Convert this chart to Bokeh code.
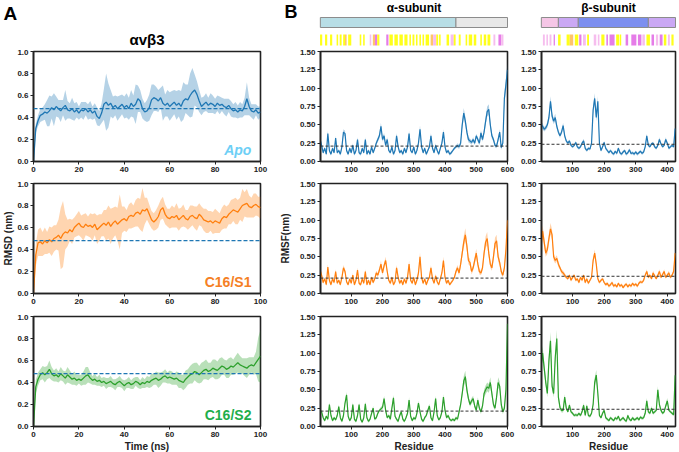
import numpy as np
from bokeh.plotting import figure
from bokeh.layouts import row, column
from bokeh.models import Range1d, FixedTicker, PrintfTickFormatter, Span, Label, ColumnDataSource
from bokeh.embed import file_html
from bokeh.resources import INLINE

FONT = "Liberation Sans"
AX = "#222222"

# ---------------- RMSD data (panel A) ----------------
time_ns = list(range(101))
rmsd_apo = [0.00,0.30,0.37,0.42,0.43,0.45,0.44,0.46,0.49,0.47,
            0.50,0.48,0.46,0.49,0.51,0.47,0.46,0.48,0.45,0.47,
            0.44,0.47,0.46,0.48,0.45,0.47,0.44,0.46,0.41,0.39,
            0.44,0.52,0.54,0.51,0.53,0.49,0.51,0.48,0.50,0.52,
            0.49,0.51,0.48,0.53,0.50,0.52,0.57,0.55,0.48,0.45,
            0.46,0.49,0.56,0.58,0.57,0.55,0.58,0.53,0.51,0.53,
            0.50,0.52,0.54,0.51,0.53,0.50,0.55,0.57,0.56,0.60,
            0.63,0.65,0.61,0.55,0.50,0.52,0.54,0.51,0.53,0.52,
            0.50,0.53,0.51,0.52,0.50,0.49,0.51,0.48,0.46,0.47,
            0.45,0.47,0.46,0.50,0.57,0.50,0.46,0.45,0.47,0.44,
            0.45]
rmsd_apo_sd = [0.00,0.04,0.05,0.06,0.06,0.07,0.12,0.14,0.10,0.15,
               0.09,0.08,0.10,0.07,0.14,0.08,0.07,0.10,0.08,0.07,
               0.06,0.07,0.08,0.06,0.07,0.08,0.06,0.07,0.08,0.07,
               0.09,0.14,0.26,0.20,0.12,0.10,0.09,0.11,0.10,0.09,
               0.10,0.11,0.10,0.12,0.10,0.18,0.12,0.10,0.09,0.08,
               0.10,0.12,0.14,0.12,0.11,0.10,0.09,0.16,0.10,0.12,
               0.13,0.12,0.11,0.13,0.12,0.14,0.17,0.13,0.14,0.20,
               0.22,0.14,0.12,0.10,0.08,0.07,0.08,0.07,0.09,0.08,
               0.07,0.07,0.08,0.06,0.07,0.08,0.06,0.07,0.06,0.07,
               0.06,0.07,0.06,0.08,0.15,0.08,0.06,0.07,0.05,0.06,
               0.05]
rmsd_s1 = [0.00,0.35,0.46,0.47,0.45,0.48,0.46,0.49,0.47,0.50,
           0.51,0.53,0.50,0.54,0.56,0.55,0.58,0.56,0.60,0.62,
           0.64,0.61,0.60,0.63,0.61,0.62,0.60,0.63,0.58,0.60,
           0.62,0.64,0.62,0.65,0.61,0.64,0.66,0.63,0.65,0.67,
           0.68,0.66,0.70,0.71,0.70,0.73,0.74,0.72,0.76,0.75,
           0.77,0.72,0.67,0.65,0.67,0.70,0.76,0.78,0.72,0.69,
           0.68,0.70,0.69,0.71,0.67,0.69,0.71,0.68,0.67,0.70,
           0.71,0.69,0.68,0.72,0.70,0.67,0.66,0.65,0.66,0.64,
           0.66,0.65,0.64,0.68,0.70,0.69,0.72,0.74,0.76,0.75,
           0.74,0.77,0.80,0.81,0.82,0.79,0.78,0.80,0.81,0.79,
           0.78]
rmsd_s1_sd = [0.00,0.10,0.12,0.13,0.11,0.12,0.10,0.12,0.13,0.12,
              0.11,0.14,0.28,0.30,0.16,0.12,0.10,0.11,0.09,0.10,
              0.11,0.10,0.12,0.10,0.09,0.11,0.12,0.10,0.13,0.12,
              0.10,0.12,0.14,0.15,0.16,0.14,0.13,0.15,0.25,0.12,
              0.11,0.10,0.11,0.12,0.10,0.12,0.13,0.14,0.20,0.12,
              0.10,0.09,0.08,0.08,0.09,0.10,0.09,0.10,0.09,0.08,
              0.09,0.10,0.09,0.11,0.10,0.09,0.10,0.08,0.09,0.10,
              0.09,0.10,0.11,0.10,0.09,0.10,0.11,0.10,0.09,0.10,
              0.11,0.10,0.09,0.10,0.11,0.10,0.09,0.11,0.10,0.12,
              0.11,0.10,0.15,0.11,0.13,0.10,0.09,0.11,0.10,0.09,
              0.10]
rmsd_s2 = [0.00,0.36,0.43,0.47,0.49,0.47,0.49,0.52,0.48,0.46,
           0.47,0.45,0.48,0.46,0.44,0.47,0.45,0.43,0.44,0.42,
           0.43,0.42,0.44,0.46,0.47,0.44,0.42,0.43,0.41,0.42,
           0.40,0.41,0.39,0.40,0.41,0.39,0.38,0.40,0.41,0.39,
           0.37,0.39,0.40,0.38,0.39,0.41,0.40,0.38,0.40,0.39,
           0.41,0.40,0.42,0.43,0.44,0.42,0.43,0.45,0.46,0.44,
           0.45,0.44,0.43,0.44,0.42,0.41,0.40,0.43,0.45,0.47,
           0.48,0.50,0.49,0.47,0.49,0.51,0.52,0.50,0.51,0.53,
           0.52,0.51,0.53,0.55,0.54,0.52,0.53,0.55,0.54,0.56,
           0.58,0.56,0.55,0.54,0.53,0.55,0.56,0.55,0.58,0.61,
           0.64]
rmsd_s2_sd = [0.00,0.06,0.06,0.05,0.06,0.07,0.06,0.08,0.06,0.05,
              0.06,0.05,0.06,0.05,0.06,0.07,0.06,0.05,0.06,0.05,
              0.04,0.05,0.06,0.08,0.07,0.05,0.04,0.05,0.04,0.05,
              0.04,0.04,0.05,0.04,0.05,0.04,0.05,0.04,0.05,0.04,
              0.05,0.04,0.05,0.04,0.05,0.04,0.05,0.04,0.05,0.04,
              0.05,0.05,0.06,0.05,0.06,0.07,0.06,0.05,0.06,0.05,
              0.06,0.06,0.05,0.06,0.07,0.06,0.07,0.08,0.07,0.08,
              0.09,0.08,0.09,0.08,0.09,0.08,0.09,0.08,0.07,0.08,
              0.09,0.08,0.09,0.08,0.07,0.08,0.09,0.08,0.07,0.08,
              0.09,0.08,0.07,0.08,0.09,0.08,0.07,0.08,0.10,0.20,
              0.24]
rmsd_ref = 0.48

# ---------------- RMSF data (panel B) ----------------
res_alpha = list(range(0, 601, 5))
rmsf_a_apo = [0.30,0.22,0.12,0.18,0.10,0.38,0.15,0.10,0.18,0.12,
              0.32,0.12,0.15,0.10,0.20,0.40,0.38,0.15,0.10,0.18,
              0.12,0.22,0.10,0.15,0.30,0.12,0.10,0.18,0.12,0.30,
              0.10,0.15,0.10,0.20,0.12,0.18,0.25,0.30,0.35,0.48,
              0.30,0.35,0.22,0.30,0.15,0.12,0.20,0.10,0.15,0.35,
              0.20,0.12,0.15,0.10,0.18,0.12,0.20,0.38,0.15,0.12,
              0.20,0.10,0.15,0.25,0.44,0.20,0.12,0.18,0.10,0.15,
              0.20,0.35,0.18,0.12,0.22,0.15,0.10,0.18,0.25,0.40,
              0.20,0.12,0.15,0.10,0.12,0.15,0.18,0.20,0.22,0.20,
              0.25,0.50,0.66,0.55,0.40,0.30,0.28,0.26,0.30,0.25,
              0.35,0.30,0.25,0.39,0.30,0.40,0.55,0.68,0.71,0.50,
              0.35,0.30,0.22,0.21,0.30,0.40,0.19,0.25,0.86,1.05,
              1.25]
rmsf_a_apo_sd = [3,3,2,2,2,4,2,2,2,2, 3,2,2,2,2,4,4,2,2,2, 2,3,2,2,3,2,2,2,2,3,
                 2,2,2,2,2,2,3,3,4,5, 3,4,3,3,2,2,2,2,2,4, 3,2,2,2,2,2,2,4,2,2,
                 2,2,2,3,5,2,2,2,2,2, 2,4,2,2,3,2,2,2,3,4, 3,2,2,2,2,2,2,2,3,3,
                 3,5,7,6,5,4,3,3,3,3, 3,3,3,4,3,4,6,7,7,5, 4,3,3,3,3,4,3,3,8,9, 10]
rmsf_a_s1 = [0.32,0.25,0.15,0.20,0.12,0.36,0.18,0.12,0.20,0.15,
             0.30,0.14,0.18,0.12,0.22,0.35,0.30,0.16,0.12,0.20,
             0.14,0.25,0.12,0.18,0.32,0.14,0.12,0.20,0.14,0.30,
             0.12,0.18,0.12,0.22,0.15,0.20,0.28,0.25,0.32,0.40,
             0.28,0.38,0.45,0.30,0.18,0.14,0.22,0.12,0.16,0.35,
             0.22,0.14,0.18,0.12,0.20,0.14,0.22,0.40,0.18,0.14,
             0.22,0.12,0.18,0.28,0.50,0.22,0.14,0.20,0.12,0.18,
             0.22,0.35,0.20,0.14,0.24,0.16,0.12,0.20,0.28,0.45,
             0.22,0.14,0.18,0.12,0.15,0.18,0.22,0.30,0.35,0.28,
             0.40,0.55,0.70,0.80,0.65,0.45,0.42,0.30,0.35,0.45,
             0.55,0.40,0.30,0.28,0.35,0.55,0.70,0.75,0.55,0.40,
             0.35,0.50,0.68,0.72,0.50,0.42,0.30,0.25,0.35,0.60,
             1.00]
rmsf_a_s1_sd = [3,3,2,2,2,4,2,2,2,2, 3,2,2,2,2,4,3,2,2,2, 2,3,2,2,3,2,2,2,2,3,
                2,2,2,2,2,2,3,3,3,5, 3,4,5,3,2,2,2,2,2,4, 3,2,2,2,2,2,2,5,2,2,
                2,2,2,3,6,2,2,2,2,2, 2,4,2,2,3,2,2,2,3,5, 3,2,2,2,2,2,2,3,4,3,
                5,6,8,9,7,5,5,4,4,5, 6,5,4,3,4,6,8,9,6,5, 4,6,8,8,6,5,4,3,4,6, 8]
rmsf_a_s2 = [0.22,0.20,0.12,0.08,0.14,0.10,0.30,0.15,0.08,0.12,
             0.09,0.15,0.27,0.12,0.07,0.15,0.32,0.43,0.14,0.08,
             0.12,0.30,0.10,0.07,0.15,0.30,0.10,0.06,0.12,0.31,
             0.12,0.07,0.10,0.18,0.25,0.10,0.12,0.18,0.22,0.24,
             0.26,0.38,0.22,0.12,0.15,0.10,0.25,0.39,0.14,0.10,
             0.07,0.15,0.20,0.10,0.07,0.12,0.18,0.36,0.14,0.08,
             0.12,0.10,0.18,0.32,0.20,0.10,0.07,0.12,0.15,0.22,
             0.28,0.12,0.08,0.20,0.38,0.15,0.09,0.12,0.20,0.40,
             0.22,0.12,0.15,0.10,0.08,0.10,0.08,0.12,0.10,0.20,
             0.30,0.45,0.62,0.68,0.50,0.38,0.30,0.35,0.38,0.28,
             0.22,0.36,0.25,0.20,0.28,0.45,0.50,0.54,0.52,0.60,
             0.45,0.30,0.25,0.40,0.60,0.55,0.30,0.20,0.25,0.50,
             1.40]
rmsf_a_s2_sd = [2,2,2,2,2,2,3,2,2,2, 2,2,3,2,2,2,3,4,2,2, 2,3,2,2,2,3,2,2,2,3,
                2,2,2,2,3,2,2,2,2,3, 3,4,3,2,2,2,3,4,2,2, 2,2,2,2,2,2,2,4,2,2,
                2,2,2,3,2,2,2,2,2,3, 3,2,2,2,4,2,2,2,2,4, 3,2,2,2,2,2,2,2,2,2,
                3,5,7,8,6,4,3,4,4,3, 3,4,3,3,3,5,6,6,6,7, 5,4,3,4,7,6,4,3,3,6, 10]
rmsf_alpha_ref = 0.21

res_beta = list(range(0, 426, 5))
rmsf_b_apo = [0.50,0.48,0.44,0.46,0.50,0.60,0.82,0.62,0.55,0.60,
              0.48,0.40,0.35,0.40,0.49,0.35,0.28,0.25,0.28,0.22,
              0.20,0.22,0.26,0.20,0.18,0.20,0.25,0.28,0.18,0.15,
              0.18,0.17,0.25,0.70,0.86,0.60,0.82,0.25,0.15,0.20,
              0.26,0.18,0.15,0.12,0.15,0.12,0.10,0.14,0.11,0.18,
              0.12,0.10,0.13,0.15,0.10,0.12,0.16,0.11,0.12,0.10,
              0.13,0.10,0.12,0.14,0.11,0.13,0.20,0.35,0.22,0.20,
              0.24,0.25,0.20,0.18,0.22,0.30,0.24,0.20,0.22,0.30,
              0.25,0.18,0.20,0.22,0.20,0.45]
rmsf_b_apo_sd = [4,4,3,3,4,5,7,5,4,5, 4,3,3,3,4,3,2,2,2,2, 2,2,2,2,2,2,2,3,2,2,
                 2,2,3,6,7,5,7,3,2,2, 2,2,2,2,2,2,2,2,2,2, 2,2,2,2,2,2,2,2,2,2,
                 2,2,2,2,2,2,2,3,2,2, 2,2,2,2,2,3,2,2,2,3, 2,2,2,2,2,4]
rmsf_b_s1 = [0.62,0.85,0.70,0.55,0.60,0.75,0.88,0.80,0.50,0.45,
             0.48,0.40,0.35,0.30,0.28,0.25,0.22,0.20,0.25,0.18,
             0.22,0.25,0.18,0.20,0.15,0.22,0.18,0.25,0.15,0.20,
             0.14,0.18,0.22,0.45,0.55,0.40,0.20,0.15,0.18,0.20,
             0.15,0.12,0.14,0.10,0.12,0.15,0.10,0.12,0.09,0.14,
             0.10,0.12,0.08,0.11,0.13,0.09,0.12,0.10,0.14,0.11,
             0.13,0.10,0.14,0.16,0.15,0.18,0.25,0.30,0.22,0.25,
             0.20,0.28,0.24,0.20,0.25,0.30,0.22,0.26,0.30,0.22,
             0.25,0.28,0.22,0.25,0.30,0.55]
rmsf_b_s1_sd = [6,8,7,5,6,7,8,7,5,4, 4,4,3,3,3,3,2,2,2,2, 2,2,2,2,2,2,2,2,2,2,
                2,2,2,4,5,4,2,2,2,2, 2,2,2,2,2,2,2,2,2,2, 2,2,2,2,2,2,2,2,2,2,
                2,2,2,2,2,2,2,3,2,2, 2,3,2,2,2,3,2,2,3,2, 2,3,2,2,3,5]
rmsf_b_s2 = [0.82,1.00,0.80,0.60,0.45,0.90,1.17,0.55,0.45,0.94,
             1.20,0.40,0.26,0.22,0.22,0.40,0.25,0.20,0.29,0.20,
             0.18,0.15,0.16,0.15,0.18,0.15,0.20,0.29,0.15,0.28,
             0.15,0.14,0.18,0.30,0.60,0.70,0.45,0.15,0.12,0.18,
             0.22,0.12,0.10,0.08,0.12,0.10,0.08,0.12,0.10,0.14,
             0.08,0.10,0.12,0.09,0.07,0.15,0.10,0.08,0.12,0.09,
             0.10,0.12,0.09,0.13,0.11,0.12,0.18,0.35,0.20,0.18,
             0.25,0.18,0.20,0.22,0.50,0.30,0.22,0.18,0.20,0.28,
             0.35,0.22,0.20,0.18,0.16,0.70]
rmsf_b_s2_sd = [8,10,8,6,5,9,12,6,5,9, 12,5,3,3,3,4,3,2,3,2, 2,2,2,2,2,2,2,3,2,3,
                2,2,2,3,6,7,5,2,2,2, 2,2,2,2,2,2,2,2,2,2, 2,2,2,2,2,2,2,2,2,2,
                2,2,2,2,2,2,2,4,2,2, 3,2,2,2,5,3,2,2,2,3, 4,2,2,2,2,7]
rmsf_beta_ref = 0.235

# ---------------- domain bars and secondary-structure stripes ----------------
alpha_dom_start = [1, 435]
alpha_dom_end = [435, 600]
alpha_dom_kind = ["propeller", "thigh"]
beta_dom_start = [1, 55, 118, 340]
beta_dom_end = [55, 118, 340, 426]
beta_dom_kind = ["psi", "hybrid", "betaI", "hybrid"]

alpha_ss_start = [0,16,32,53,63,74,80,90,127,138,159,169,176,183,212,222,238,254,270,286,296,307,318,328,338,354,362,372,381,405,418,428,444,466,476,492,513,524,536,555,571,580]
alpha_ss_end   = [7,23,39,58,69,80,85,100,132,143,164,176,183,190,219,233,249,265,280,291,302,312,323,333,349,362,372,378,386,413,428,434,450,471,487,500,518,532,545,561,580,587]
alpha_ss_kind  = ["Y","Y","Y","Y","Y","Y","O","Y","Y","Y","P","O","M","Y","M","Y","Y","Y","Y","Y","Y","Y","Y","Y","Y","O","P","Y","Y","Y","P","Y","Y","Y","Y","Y","Y","Y","Y","P","M","P"]
beta_ss_start = [6,17,27,40,54,81,91,107,121,133,146,167,180,191,207,217,238,249,268,286,307,321,334,350,364,376,389,402,413]
beta_ss_end   = [12,22,33,44,62,91,102,118,128,142,152,175,185,201,212,233,247,254,276,302,318,329,345,358,371,385,397,408,420]
beta_ss_kind  = ["P","P","P","M","Y","Y","O","Y","M","P","Y","P","P","Y","M","M","Y","Y","M","M","M","P","Y","M","P","M","Y","P","Y"]

SS_COLORS = {"Y": "#ffff1a", "M": "#e57ce8", "P": "#f6bdee", "O": "#ffc46a"}
DOM_COLORS = {"propeller": "#b8dee6", "thigh": "#e8e8e8", "psi": "#f5c6e6",
              "hybrid": "#caa8f4", "betaI": "#7d8ff0"}

HEADER_H = 49


def style_axes(p, xticks, yticks, yfmt):
    p.xgrid.visible = False
    p.ygrid.visible = False
    p.outline_line_color = AX
    p.outline_line_width = 1.6
    for ax in p.axis:
        ax.major_label_text_font = FONT
        ax.major_label_text_font_style = "bold"
        ax.major_label_text_font_size = "8px"
        ax.major_label_text_color = AX
        ax.major_tick_in = 0
        ax.major_tick_out = 3
        ax.minor_tick_in = 0
        ax.minor_tick_out = 0
        ax.axis_line_color = AX
        ax.axis_line_width = 1.6
        ax.major_tick_line_color = AX
        ax.major_label_standoff = 2
        ax.axis_label_text_font = FONT
        ax.axis_label_text_font_style = "bold"
        ax.axis_label_text_font_size = "10px"
        ax.axis_label_text_color = AX
        ax.axis_label_standoff = 1
    p.xaxis.ticker = FixedTicker(ticks=xticks)
    p.yaxis.ticker = FixedTicker(ticks=yticks)
    p.yaxis.formatter = PrintfTickFormatter(format=yfmt)


def make_fig(fw, fh, xr, yr, left, right, top, bottom):
    p = figure(frame_width=fw, frame_height=fh, x_range=Range1d(*xr), y_range=Range1d(*yr),
               min_border_left=left, min_border_right=right, min_border_top=top,
               min_border_bottom=bottom, output_backend="svg", toolbar_location=None)
    p.background_fill_color = "white"
    p.border_fill_color = "white"
    p.frame_align = False
    return p


def set_ylabel(p, text, visible, standoff):
    p.yaxis.axis_label = text
    p.yaxis.axis_label_standoff = standoff
    p.yaxis.axis_label_text_alpha = 1.0 if visible else 0.0


def rmsd_panel(mean, sd, color, name, name_color, italic, top, bottom, show_ylab, xlab=None):
    p = make_fig(227, 110, (0, 100), (0, 1), 33, 15, top, bottom)
    m = np.array(mean)
    s = np.array(sd)
    p.varea(x=time_ns, y1=m - s, y2=m + s, fill_color=color, fill_alpha=0.33)
    p.line(time_ns, m, line_color=color, line_width=1.3)
    p.add_layout(Span(location=rmsd_ref, dimension="width", line_color="#1f77b4",
                      line_dash="4 2", line_width=1.2))
    style_axes(p, [0, 20, 40, 60, 80, 100], [0, 0.2, 0.4, 0.6, 0.8, 1.0], "%.1f")
    set_ylabel(p, "RMSD (nm)", show_ylab, 0)
    if xlab:
        p.xaxis.axis_label = xlab
    p.add_layout(Label(x=96, y=0.105, text=name, text_align="right", text_baseline="middle",
                       text_font=FONT, text_font_size="14px",
                       text_font_style="bold italic" if italic else "bold", text_color=name_color))
    return p


def rmsf_panel(xs, mean, sd_pct, color, xr, xticks, ref, fw, left, right, top, bottom,
               ylab=None, show_ylab=False, xlab=None):
    p = make_fig(fw, 110, xr, (0, 1.5), left, right, top, bottom)
    m = np.array(mean)
    s = np.array(sd_pct) / 100.0
    p.varea(x=xs, y1=np.clip(m - s, 0, None), y2=m + s, fill_color=color, fill_alpha=0.35)
    p.line(xs, m, line_color=color, line_width=1.2)
    p.add_layout(Span(location=ref, dimension="width", line_color="#333333",
                      line_dash="3 2", line_width=1))
    style_axes(p, xticks, [0, 0.25, 0.5, 0.75, 1.0, 1.25, 1.5], "%.2f")
    if ylab:
        set_ylabel(p, ylab, show_ylab, 6)
    if xlab:
        p.xaxis.axis_label = xlab
    return p


def header_fig(width, xr):
    p = figure(width=width, height=HEADER_H, x_range=Range1d(*xr), y_range=Range1d(0, HEADER_H),
               min_border=0, min_border_left=0, min_border_right=0, min_border_top=0,
               min_border_bottom=0, x_axis_location=None, y_axis_location=None,
               output_backend="svg", toolbar_location=None)
    p.xgrid.visible = False
    p.ygrid.visible = False
    p.outline_line_color = None
    p.background_fill_color = "white"
    p.border_fill_color = "white"
    p.frame_align = False
    return p


def text_label(p, x, y, text, size, align="left", style="bold"):
    p.add_layout(Label(x=x, y=y, x_units="screen", y_units="screen", text=text,
                       text_align=align, text_baseline="middle", text_font=FONT,
                       text_font_size=size, text_font_style=style, text_color="black"))


def subunit_header(fw, xr, left, right, dstart, dend, dkind, sstart, send, skind, title, letter=None):
    scale = (xr[1] - xr[0]) / fw
    hx = (xr[0] - left * scale, xr[1] + right * scale)
    p = header_fig(left + fw + right, hx)
    ds = ColumnDataSource(dict(l=dstart, r=dend, c=[DOM_COLORS[k] for k in dkind]))
    p.quad(left="l", right="r", bottom=22, top=32, fill_color="c", line_color="#8c8c8c",
           line_width=1, source=ds)
    ss = ColumnDataSource(dict(l=sstart, r=send, c=[SS_COLORS[k] for k in skind]))
    p.quad(left="l", right="r", bottom=4, top=15, fill_color="c", line_color=None, source=ss)
    text_label(p, left + fw / 2, HEADER_H - 7, title, "12px", align="center")
    if letter:
        text_label(p, 9, HEADER_H - 11, letter, "18px")
    return p


# ---- column A ----
fAh = header_fig(275, (0, 275))
text_label(fAh, 3, HEADER_H - 12.5, "A", "19px")
text_label(fAh, 146.5, HEADER_H - 38.5, "\u03b1v\u03b23", "15px", align="center")
fA1 = rmsd_panel(rmsd_apo, rmsd_apo_sd, "#1f77b4", "Apo", "#6dcff6", True, 2, 20, False)
fA2 = rmsd_panel(rmsd_s1, rmsd_s1_sd, "#ff7f0e", "C16/S1", "#f58025", False, 2, 21, True)
fA3 = rmsd_panel(rmsd_s2, rmsd_s2_sd, "#2ca02c", "C16/S2", "#1fae4b", False, 2, 26, False,
                 xlab="Time (ns)")

# ---- column B alpha ----
AXR = (1.5, 600)
BXR = (1.5, 426)
aticks = [100, 200, 300, 400, 500, 600]
bticks = [100, 200, 300, 400]
fBa0 = subunit_header(187, AXR, 45, 10, alpha_dom_start, alpha_dom_end, alpha_dom_kind,
                      alpha_ss_start, alpha_ss_end, alpha_ss_kind, "\u03b1-subunit", letter="B")
fBa1 = rmsf_panel(res_alpha, rmsf_a_apo, rmsf_a_apo_sd, "#1f77b4", AXR, aticks, rmsf_alpha_ref,
                  187, 45, 10, 2, 20, ylab="RMSF(nm)")
fBa2 = rmsf_panel(res_alpha, rmsf_a_s1, rmsf_a_s1_sd, "#ff7f0e", AXR, aticks, rmsf_alpha_ref,
                  187, 45, 10, 2, 21, ylab="RMSF(nm)", show_ylab=True)
fBa3 = rmsf_panel(res_alpha, rmsf_a_s2, rmsf_a_s2_sd, "#2ca02c", AXR, aticks, rmsf_alpha_ref,
                  187, 45, 10, 2, 26, ylab="RMSF(nm)", xlab="Residue")

# ---- column B beta ----
fBb0 = subunit_header(134, BXR, 24, 4, beta_dom_start, beta_dom_end, beta_dom_kind,
                      beta_ss_start, beta_ss_end, beta_ss_kind, "\u03b2-subunit")
fBb1 = rmsf_panel(res_beta, rmsf_b_apo, rmsf_b_apo_sd, "#1f77b4", BXR, bticks, rmsf_beta_ref,
                  134, 24, 4, 2, 20)
fBb2 = rmsf_panel(res_beta, rmsf_b_s1, rmsf_b_s1_sd, "#ff7f0e", BXR, bticks, rmsf_beta_ref,
                  134, 24, 4, 2, 21)
fBb3 = rmsf_panel(res_beta, rmsf_b_s2, rmsf_b_s2_sd, "#2ca02c", BXR, bticks, rmsf_beta_ref,
                  134, 24, 4, 2, 26, xlab="Residue")

layout = row(column(fAh, fA1, fA2, fA3, spacing=0),
             column(fBa0, fBa1, fBa2, fBa3, spacing=0),
             column(fBb0, fBb1, fBb2, fBb3, spacing=0), spacing=0)

open("out.html", "w").write(file_html(layout, INLINE))
